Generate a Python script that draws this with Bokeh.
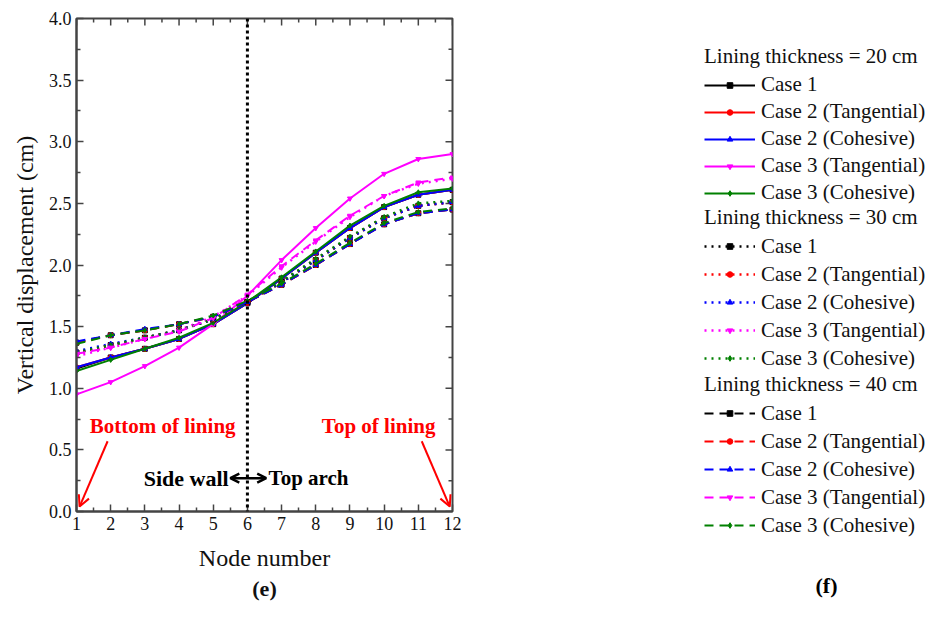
from bokeh.plotting import figure
from bokeh.layouts import row
from bokeh.models import (Legend, LegendItem, Label, Arrow, OpenHead, Span,
                          FixedTicker, PrintfTickFormatter, Range1d, Title)
from bokeh.embed import file_html
from bokeh.resources import INLINE

# ---------------- data ----------------
nodes = [1, 2, 3, 4, 5, 6, 7, 8, 9, 10, 11, 12]
x_ticks = [1, 2, 3, 4, 5, 6, 7, 8, 9, 10, 11, 12]
y_ticks = [0.0, 0.5, 1.0, 1.5, 2.0, 2.5, 3.0, 3.5, 4.0]

cases = ["Case 1", "Case 2 (Tangential)", "Case 2 (Cohesive)",
         "Case 3 (Tangential)", "Case 3 (Cohesive)"]
case_colors = ["#000000", "#ff0000", "#0000ff", "#ff00ff", "#008000"]
case_markers = ["square", "circle", "triangle", "inverted_triangle", "diamond"]

# Lining thickness = 20 cm (solid)
t20_case1 = [1.16, 1.25, 1.32, 1.40, 1.52, 1.69, 1.89, 2.10, 2.30, 2.47, 2.57, 2.61]
t20_case2_tan = [1.17, 1.25, 1.32, 1.40, 1.52, 1.69, 1.89, 2.10, 2.30, 2.47, 2.57, 2.61]
t20_case2_coh = [1.17, 1.25, 1.32, 1.40, 1.52, 1.69, 1.89, 2.10, 2.30, 2.47, 2.57, 2.61]
t20_case3_tan = [0.95, 1.05, 1.18, 1.33, 1.52, 1.75, 2.04, 2.30, 2.54, 2.74, 2.86, 2.90]
t20_case3_coh = [1.14, 1.23, 1.32, 1.41, 1.53, 1.70, 1.90, 2.11, 2.32, 2.48, 2.59, 2.62]

# Lining thickness = 30 cm (dotted)
t30_case1 = [1.29, 1.35, 1.41, 1.47, 1.56, 1.70, 1.86, 2.04, 2.22, 2.38, 2.48, 2.51]
t30_case2_tan = [1.29, 1.35, 1.41, 1.47, 1.56, 1.70, 1.86, 2.04, 2.22, 2.38, 2.48, 2.51]
t30_case2_coh = [1.30, 1.36, 1.41, 1.47, 1.56, 1.70, 1.86, 2.04, 2.22, 2.38, 2.48, 2.51]
t30_case3_tan = [1.26, 1.33, 1.40, 1.47, 1.58, 1.75, 1.98, 2.19, 2.39, 2.56, 2.66, 2.70]
t30_case3_coh = [1.29, 1.35, 1.41, 1.47, 1.56, 1.70, 1.87, 2.05, 2.23, 2.39, 2.50, 2.52]

# Lining thickness = 40 cm (dashed)
t40_case1 = [1.37, 1.43, 1.47, 1.52, 1.58, 1.70, 1.84, 2.00, 2.17, 2.33, 2.42, 2.45]
t40_case2_tan = [1.37, 1.43, 1.47, 1.52, 1.58, 1.70, 1.84, 2.00, 2.17, 2.33, 2.42, 2.45]
t40_case2_coh = [1.38, 1.43, 1.48, 1.52, 1.58, 1.70, 1.84, 2.00, 2.17, 2.33, 2.42, 2.45]
t40_case3_tan = [1.28, 1.33, 1.40, 1.46, 1.57, 1.76, 1.99, 2.20, 2.40, 2.56, 2.67, 2.71]
t40_case3_coh = [1.36, 1.43, 1.47, 1.52, 1.59, 1.71, 1.85, 2.01, 2.18, 2.34, 2.43, 2.46]

groups = [
    ("Lining thickness = 20 cm", "solid", 2.0,
     [t20_case1, t20_case2_tan, t20_case2_coh, t20_case3_tan, t20_case3_coh]),
    ("Lining thickness = 30 cm", "2 5", 2.5,
     [t30_case1, t30_case2_tan, t30_case2_coh, t30_case3_tan, t30_case3_coh]),
    ("Lining thickness = 40 cm", "9 6", 2.0,
     [t40_case1, t40_case2_tan, t40_case2_coh, t40_case3_tan, t40_case3_coh]),
]

FONT = "Liberation Serif"
AX = "#444444"
TXT = "#111111"

# ---------------- main chart ----------------
p = figure(width=470, height=603, output_backend="svg", toolbar_location=None,
           x_range=Range1d(1, 12), y_range=Range1d(0, 4),
           min_border_left=76, min_border_right=18,
           min_border_top=18, min_border_bottom=92)
p.frame_align = False
p.grid.visible = False
p.outline_line_color = AX
p.outline_line_width = 2


def style_axis(ax, ticks, minor):
    ax.ticker = FixedTicker(ticks=ticks, minor_ticks=minor)
    ax.axis_line_color = AX
    ax.axis_line_width = 2
    ax.major_tick_line_color = AX
    ax.minor_tick_line_color = AX
    ax.major_tick_line_width = 1.5
    ax.minor_tick_line_width = 1.5
    ax.major_tick_in = 7
    ax.major_tick_out = 0
    ax.minor_tick_in = 4
    ax.minor_tick_out = 0
    ax.major_label_text_font = FONT
    ax.major_label_text_color = TXT
    ax.major_label_text_font_size = "18px"
    ax.major_label_standoff = 5
    ax.axis_label_text_font = FONT
    ax.axis_label_text_font_style = "normal"
    ax.axis_label_text_font_size = "24px"
    ax.axis_label_text_color = TXT


x_minor = [v + 0.5 for v in x_ticks[:-1]]
y_minor = [v + 0.25 for v in y_ticks[:-1]]

xa = p.xaxis[0]
ya = p.yaxis[0]
style_axis(xa, x_ticks, x_minor)
style_axis(ya, y_ticks, y_minor)
ya.formatter = PrintfTickFormatter(format="%.1f")
xa.axis_label = "Node number"
ya.axis_label = "Vertical displacement (cm)"
xa.axis_label_standoff = 12
ya.axis_label_standoff = 8

# mirrored inward ticks on the top and right frame edges
x0, x1 = p.x_range.start, p.x_range.end
y0, y1 = p.y_range.start, p.y_range.end
px_x = (x1 - x0) / 376.0
px_y = (y1 - y0) / 493.0
p.segment(x0=x_ticks, x1=x_ticks, y0=[y1] * len(x_ticks),
          y1=[y1 - 7 * px_y] * len(x_ticks), line_color=AX, line_width=1.5)
p.segment(x0=x_minor, x1=x_minor, y0=[y1] * len(x_minor),
          y1=[y1 - 4 * px_y] * len(x_minor), line_color=AX, line_width=1.5)
p.segment(x0=[x1] * len(y_ticks), x1=[x1 - 7 * px_x] * len(y_ticks),
          y0=y_ticks, y1=y_ticks, line_color=AX, line_width=1.5)
p.segment(x0=[x1] * len(y_minor), x1=[x1 - 4 * px_x] * len(y_minor),
          y0=y_minor, y1=y_minor, line_color=AX, line_width=1.5)

# boundary between side wall and top arch
p.add_layout(Span(location=6, dimension="height", line_color="black",
                  line_width=3, line_dash="3 3"))

for title, dash, lw, series in groups:
    for vals, col, mk in zip(series, case_colors, case_markers):
        p.line(nodes, vals, line_color=col, line_width=lw, line_dash=dash)
        p.scatter(nodes, vals, marker=mk, size=5, fill_color=col, line_color=col)


def txt(fig, x, y, s, color="black", size="21px", style="bold", align="center",
        units="data"):
    fig.add_layout(Label(x=x, y=y, x_units=units, y_units=units, text=s,
                         text_color=color, text_font=FONT, text_font_size=size,
                         text_font_style=style, text_align=align,
                         text_baseline="middle"))


txt(p, 3.52, 0.69, "Bottom of lining", color="#ff0000")
txt(p, 9.84, 0.69, "Top of lining", color="#ff0000")
txt(p, 5.45, 0.27, "Side wall", align="right", size="22px")
txt(p, 6.62, 0.27, "Top arch", align="left")

p.add_layout(Arrow(x_start=1.91, y_start=0.57, x_end=1.09, y_end=0.04,
                   line_color="#ff0000", line_width=2,
                   end=OpenHead(size=11, line_color="#ff0000", line_width=2)))
p.add_layout(Arrow(x_start=11.10, y_start=0.57, x_end=11.92, y_end=0.04,
                   line_color="#ff0000", line_width=2,
                   end=OpenHead(size=11, line_color="#ff0000", line_width=2)))
p.add_layout(Arrow(x_start=5.50, y_start=0.27, x_end=6.55, y_end=0.27,
                   line_color="black", line_width=2.5,
                   start=OpenHead(size=9, line_color="black", line_width=2.5),
                   end=OpenHead(size=9, line_color="black", line_width=2.5)))

p.add_layout(Title(text="(e)", align="center", text_font=FONT,
                   text_font_size="22px", text_font_style="bold",
                   text_color=TXT, standoff=0), "below")

# ---------------- legend panel ----------------
lf = figure(width=458, height=603, output_backend="svg", toolbar_location=None,
            x_range=Range1d(-10, -9), y_range=Range1d(-10, -9),
            x_axis_type=None, y_axis_type=None, min_border=0)
lf.frame_align = False
lf.grid.visible = False
lf.outline_line_color = None

leg_pos = [(234, 397), (234, 231), (234, 64)]
leg_h = [27, 28, 28]
for (title, dash, lw, series), loc, ih in zip(groups, leg_pos, leg_h):
    items = []
    for name, vals, col, mk in zip(cases, series, case_colors, case_markers):
        lr = lf.line(nodes, vals, line_color=col, line_width=lw, line_dash=dash)
        sr = lf.scatter(nodes, vals, marker=mk, size=5, fill_color=col, line_color=col)
        items.append(LegendItem(label=name, renderers=[lr, sr]))
    lg = Legend(items=items, location=loc, title=title,
                title_text_font=FONT, title_text_font_style="normal",
                title_text_font_size="21px", title_text_color=TXT,
                title_standoff=2,
                label_text_font=FONT, label_text_font_size="21px",
                label_text_color=TXT,
                glyph_width=51, glyph_height=14, label_height=ih,
                label_standoff=6, spacing=0, padding=0, margin=0,
                border_line_color=None, background_fill_alpha=0,
                inactive_fill_alpha=0)
    lf.add_layout(lg, "center")

txt(lf, 356, 18, "(f)", size="22px", style="bold", units="screen")

open("out.html", "w").write(file_html(row(p, lf), INLINE))
